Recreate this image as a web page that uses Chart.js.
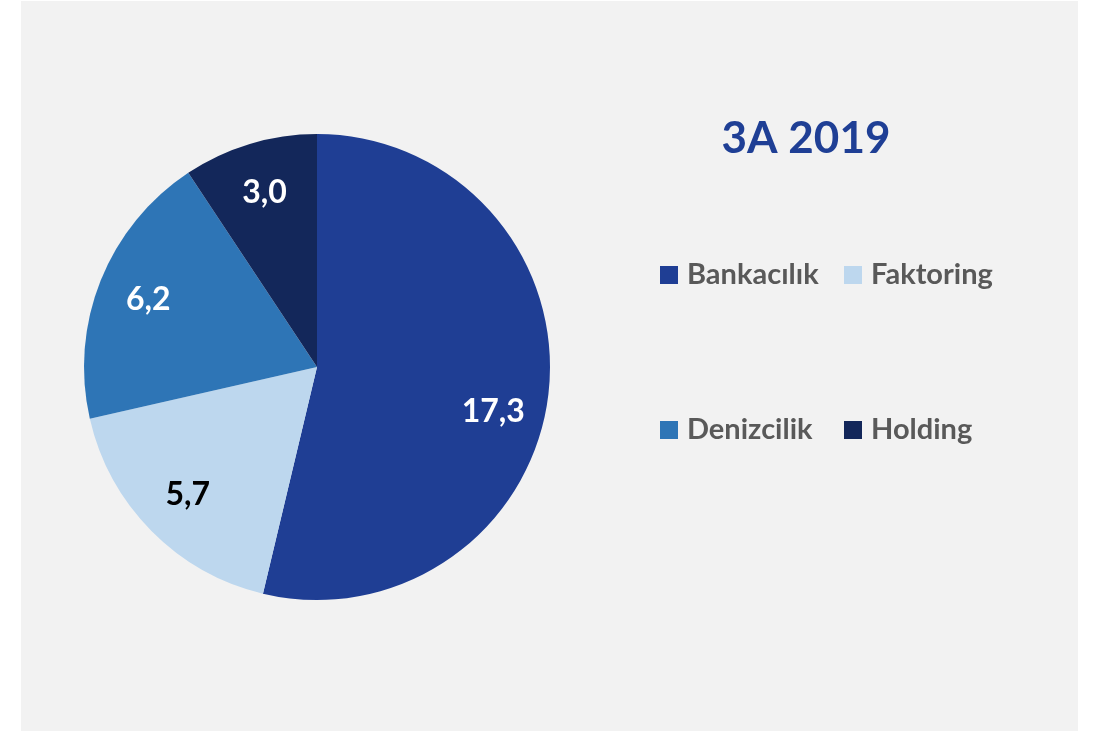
<!DOCTYPE html>
<html>
<head>
<meta charset="utf-8">
<script src="https://cdn.jsdelivr.net/npm/chart.js@4"></script>
<style>
  body { margin: 0; background: #ffffff; }
  #panel { position: absolute; left: 21px; top: 1px; width: 1057px; height: 730px; background: #f2f2f2; }
  #wrap { position: absolute; left: 0; top: 0; width: 1096px; height: 731px; }
</style>
</head>
<body>
<div id="panel"></div>
<div id="wrap"><canvas id="pieChart"></canvas></div>
<script>
// Chart data
const chartTitle = '3A 2019';
const sectors = ['Bankacılık', 'Faktoring', 'Denizcilik', 'Holding'];
const values = [17.3, 5.7, 6.2, 3.0];
const sliceColors = ['#1f3e94', '#bdd7ee', '#2e75b6', '#13275a'];
const labelColors = ['#ffffff', '#000000', '#ffffff', '#ffffff'];

const FONT = 'Lato, Carlito, "Open Sans", sans-serif';

// draws value labels, title and the 2x2 legend
const decorations = {
    id: 'decorations',
    afterDatasetsDraw(chart) {
        const ctx = chart.ctx;
        const arcs = chart.getDatasetMeta(0).data;
        const nudge = [0.13, 0, 0, 0];
        ctx.save();
        ctx.font = 'bold 32px ' + FONT;
        ctx.textAlign = 'center';
        ctx.textBaseline = 'middle';
        arcs.forEach(function(arc, i) {
            const p = arc.getProps(['x', 'y', 'startAngle', 'endAngle', 'outerRadius'], true);
            const mid = (p.startAngle + p.endAngle) / 2 + nudge[i];
            const r = p.outerRadius * 0.78;
            ctx.fillStyle = labelColors[i];
            ctx.fillText(values[i].toFixed(1).replace('.', ','), p.x + Math.cos(mid) * r, p.y + Math.sin(mid) * r);
        });
        ctx.restore();
    },
    afterDraw(chart) {
        const ctx = chart.ctx;
        ctx.save();
        // title
        ctx.font = 'bold 44px ' + FONT;
        ctx.fillStyle = '#1f3f95';
        ctx.textAlign = 'center';
        ctx.textBaseline = 'alphabetic';
        ctx.fillText(chartTitle, 806, 153);
        // legend
        const cols = [660, 844];
        const rows = [266, 421];
        ctx.font = 'bold 29px ' + FONT;
        ctx.textAlign = 'left';
        sectors.forEach(function(name, i) {
            const x = cols[i % 2];
            const y = rows[Math.floor(i / 2)];
            ctx.fillStyle = sliceColors[i];
            ctx.fillRect(x, y, 18, 18);
            ctx.fillStyle = '#595959';
            ctx.fillText(name, x + 27, y + 18);
        });
        ctx.restore();
    }
};

const ctx = document.getElementById('pieChart').getContext('2d');
const pieChart = new Chart(ctx, {
    type: 'pie',
    data: {
        labels: sectors,
        datasets: [{
            data: values,
            backgroundColor: sliceColors,
            borderWidth: 0
        }]
    },
    options: {
        responsive: true,
        maintainAspectRatio: false,
        animation: false,
        layout: {
            padding: { left: 84, top: 134, right: 546, bottom: 131 }
        },
        plugins: {
            legend: { display: false },
            tooltip: { enabled: false },
            title: { display: false }
        }
    },
    plugins: [decorations]
});
</script>
</body>
</html>
